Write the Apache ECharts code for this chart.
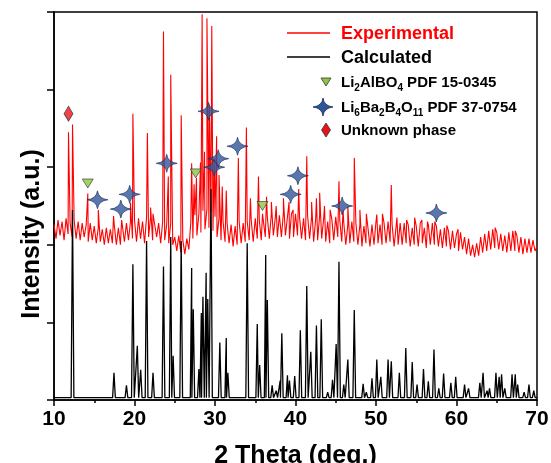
<!DOCTYPE html>
<html>
<head>
<meta charset="utf-8">
<script src="https://cdn.jsdelivr.net/npm/echarts@6/dist/echarts.min.js"></script>
<style>
  html, body { margin: 0; padding: 0; background: #fff; }
  #chart { width: 551px; height: 463px; }
</style>
</head>
<body>
<div id="chart"></div>
<script>
// XRD pattern: experimental (offset) vs calculated

const xTicks = [10, 20, 30, 40, 50, 60, 70];

// experimental background, one value every 0.25 deg from 10 to 70
const redStep = 0.25;
const redBase = [
  2.26, 2.08, 2.32, 2.12,  2.30, 2.06, 2.34, 2.14,  2.28, 2.10, 2.32, 2.08,
  2.30, 2.06, 2.28, 2.10,  2.26, 2.04, 2.28, 2.06,  2.24, 2.02, 2.22, 2.04,
  2.20, 2.00, 2.22, 2.02,  2.20, 2.02, 2.24, 2.00,  2.22, 2.00, 2.24, 2.04,
  2.28, 2.06, 2.30, 2.08,  2.32, 2.04, 2.34, 2.08,  2.30, 2.02, 2.36, 2.10,
  2.36, 2.06, 2.38, 2.10,  2.28, 2.02, 2.30, 2.06,  2.26, 2.02, 2.28, 2.00,
  2.10, 1.92, 2.12, 1.90,  2.06, 1.88, 2.08, 1.94,  2.30, 2.08, 2.38, 2.12,
  2.40, 2.16, 2.44, 2.20,  2.46, 2.22, 2.42, 2.18,  2.36, 2.10, 2.34, 2.06,
  2.30, 2.04, 2.28, 2.02,  2.26, 1.98, 2.24, 2.00,  2.30, 2.02, 2.28, 2.04,
  2.30, 2.06, 2.32, 2.04,  2.34, 2.08, 2.32, 2.06,  2.38, 2.10, 2.36, 2.08,
  2.40, 2.12, 2.36, 2.10,  2.38, 2.10, 2.42, 2.12,  2.36, 2.08, 2.40, 2.10,
  2.40, 2.12, 2.36, 2.08,  2.34, 2.06, 2.38, 2.08,  2.36, 2.04, 2.32, 2.06,
  2.38, 2.08, 2.34, 2.04,  2.30, 2.02, 2.34, 2.06,  2.36, 2.10, 2.32, 2.04,
  2.28, 2.00, 2.26, 2.02,  2.30, 2.04, 2.28, 2.00,  2.26, 1.98, 2.24, 2.02,
  2.22, 1.98, 2.26, 2.00,  2.30, 2.02, 2.26, 2.00,  2.28, 2.02, 2.30, 2.04,
  2.26, 1.98, 2.24, 2.00,  2.28, 2.00, 2.28, 2.02,  2.26, 1.98, 2.22, 2.00,
  2.24, 1.98, 2.28, 2.02,  2.22, 1.96, 2.26, 2.00,  2.28, 2.00, 2.24, 1.98,
  2.20, 1.96, 2.22, 1.98,  2.18, 1.94, 2.18, 1.96,  2.14, 1.92, 2.16, 1.94,
  2.10, 1.88, 2.08, 1.86,  2.00, 1.84, 2.02, 1.86,  2.10, 1.90, 2.14, 1.92,
  2.18, 1.94, 2.20, 1.96,  2.16, 1.94, 2.14, 1.92,  2.12, 1.90, 2.16, 1.92,
  2.18, 1.92, 2.12, 1.90,  2.10, 1.88, 2.08, 1.90,  2.08, 1.90, 2.06, 1.92,
  1.98
];

// experimental peaks [2theta, intensity]
const redPeaks = [
  [11.8, 3.45], [12.3, 3.55], [14.2, 2.66], [15.5, 2.45], [17.4, 2.37],
  [18.4, 2.32], [19.5, 2.54], [19.8, 3.69], [21.6, 3.44], [22.0, 2.48],
  [22.3, 2.40], [23.6, 4.75], [24.2, 2.88], [24.5, 4.19], [25.8, 3.67],
  [27.1, 3.05], [27.4, 2.78], [27.7, 2.86], [28.2, 3.06], [28.4, 4.97],
  [28.7, 3.20], [29.0, 4.92], [29.3, 3.80], [29.6, 4.82], [29.9, 3.10],
  [30.2, 3.40], [30.5, 2.90], [30.9, 2.75], [31.4, 2.70], [32.9, 3.12],
  [33.9, 3.51], [34.4, 2.60], [35.4, 2.88], [35.9, 2.40], [36.4, 2.62],
  [37.0, 2.55], [37.6, 2.50], [38.5, 2.60], [39.2, 2.55], [39.7, 2.45],
  [40.4, 2.72], [41.4, 3.14], [42.0, 2.55], [42.6, 2.60], [43.0, 2.67],
  [43.6, 2.50], [44.3, 2.45], [45.4, 2.82], [45.9, 2.45], [46.5, 2.50],
  [47.3, 3.12], [48.0, 2.45], [48.8, 2.40], [50.1, 2.39], [50.8, 2.40],
  [51.9, 2.77], [52.6, 2.35], [53.8, 2.32], [54.8, 2.35], [55.7, 2.32],
  [56.4, 2.30], [57.3, 2.30], [58.8, 2.25], [60.2, 2.20], [64.8, 2.22],
  [67.3, 2.18]
];

// calculated pattern peaks [2theta, intensity]
const calcBase = 0.03;
const calcPeaks = [
  [12.3, 2.45], [17.45, 0.35], [19.0, 0.19], [19.8, 1.75], [20.35, 0.70],
  [20.77, 0.39], [21.5, 2.05], [22.3, 0.35], [23.6, 1.72], [24.5, 2.10],
  [24.8, 0.57], [25.8, 2.05], [27.1, 1.70], [27.3, 1.17], [28.0, 0.40],
  [28.3, 1.12], [28.5, 1.33], [28.9, 1.64], [29.1, 1.30], [29.5, 2.72],
  [30.6, 0.74], [31.4, 0.80], [31.6, 0.35], [34.0, 2.02], [35.25, 0.98],
  [35.55, 0.45], [36.3, 1.87], [36.5, 1.29], [37.1, 0.19], [37.6, 0.12],
  [38.1, 0.25], [38.3, 0.86], [39.0, 0.32], [39.25, 0.25], [39.9, 0.31],
  [40.6, 0.90], [41.4, 1.47], [41.9, 0.62], [42.6, 0.96], [43.2, 1.04],
  [44.0, 0.10], [44.6, 0.26], [45.05, 0.72], [45.4, 1.78], [46.0, 0.20],
  [46.5, 0.52], [47.3, 1.16], [48.4, 0.21], [48.8, 0.10], [49.5, 0.28],
  [50.1, 0.52], [50.6, 0.30], [51.5, 0.52], [51.9, 0.50], [52.9, 0.35],
  [53.7, 0.67], [54.5, 0.49], [55.1, 0.20], [55.9, 0.40], [56.5, 0.24],
  [57.2, 0.65], [57.8, 0.15], [58.4, 0.34], [59.3, 0.22], [59.9, 0.30],
  [61.0, 0.20], [61.5, 0.15], [62.9, 0.22], [63.3, 0.35], [63.8, 0.12],
  [64.1, 0.15], [64.9, 0.35], [65.3, 0.30], [65.6, 0.33], [66.0, 0.15],
  [66.9, 0.33], [67.3, 0.33], [67.6, 0.20], [68.4, 0.10], [69.0, 0.20],
  [69.6, 0.12]
];

// phase markers [2theta, intensity]
const li2alboMarks = [[14.2, 2.79], [27.6, 2.92], [35.9, 2.50]];
const li6ba2Marks = [
  [15.4, 2.58], [18.3, 2.46], [19.4, 2.65], [24.0, 3.05], [29.2, 3.72],
  [29.9, 3.00], [30.4, 3.11], [32.8, 3.27], [39.4, 2.65], [40.3, 2.89],
  [45.8, 2.50], [57.5, 2.41]
];
const unknownMarks = [[11.8, 3.69]];

const byX = (a, b) => a[0] - b[0];

const redData = redBase.map((v, i) => [10 + i * redStep, v]).concat(redPeaks).sort(byX);

const calcData = [[10, calcBase], [70, calcBase]];
calcPeaks.forEach(([p, h]) => {
  calcData.push([p - 0.17, calcBase], [p, h], [p + 0.17, calcBase]);
});
calcData.sort(byX);

const FONT = "Arial, 'Liberation Sans', sans-serif";
const STAR = "path://M0,-9 Q1,-1 10,0 Q1,1 0,9 Q-1,1 -10,0 Q-1,-1 0,-9 Z";
// same star as a polygon outline for the legend glyph
const starOutline = [
  [0, -9], [1, -5.4], [3, -2.75], [6, -0.94], [10, 0], [6, 0.94], [3, 2.75], [1, 5.4],
  [0, 9], [-1, 5.4], [-3, 2.75], [-6, 0.94], [-10, 0], [-6, -0.94], [-3, -2.75], [-1, -5.4]
];
const GREEN = "#8dc63f", BLUE = "#2f5597", RED = "#ff0000";

const chart = echarts.init(document.getElementById("chart"), null, { renderer: "canvas" });

const subRich = {
  n: { fontSize: 15, fontWeight: "bold", fontFamily: FONT, color: "#000", lineHeight: 20 },
  s: { fontSize: 10, fontWeight: "bold", fontFamily: FONT, color: "#000", lineHeight: 10, verticalAlign: "bottom" }
};

chart.setOption({
  animation: false,
  backgroundColor: "#fff",
  grid: {
    left: 54, right: 14, top: 12, bottom: 63, outerBoundsMode: "none",
    show: true, borderColor: "#000", borderWidth: 1.5
  },
  xAxis: {
    type: "value",
    min: 10, max: 70, interval: 10,
    name: "2 Theta (deg.)",
    nameLocation: "middle",
    nameGap: 44,
    nameTextStyle: { fontFamily: FONT, fontWeight: "bold", fontSize: 25, color: "#000" },
    axisLine: { lineStyle: { color: "#000", width: 1.5 } },
    axisTick: { inside: false, length: 6, lineStyle: { color: "#000", width: 1.5 } },
    minorTick: { show: true, splitNumber: 2, length: 3, lineStyle: { color: "#000", width: 1.5 } },
    axisLabel: {
      margin: 9, fontFamily: FONT, fontWeight: "bold", fontSize: 21, color: "#000",
      formatter: v => (xTicks.includes(v) ? String(v) : "")
    },
    splitLine: { show: false }
  },
  yAxis: {
    type: "value",
    min: 0, max: 5, interval: 1,
    axisLine: { show: true, lineStyle: { color: "#000", width: 1.5 } },
    axisTick: { show: true, inside: false, length: 7, lineStyle: { color: "#000", width: 1.5 } },
    axisLabel: { show: false },
    splitLine: { show: false }
  },
  series: [
    {
      name: "Experimental", type: "line", data: redData, showSymbol: false, sampling: false,
      lineStyle: { color: RED, width: 1.1 }, z: 2
    },
    {
      name: "Calculated", type: "line", data: calcData, showSymbol: false, sampling: false,
      lineStyle: { color: "#000", width: 1.3 }, z: 3
    },
    {
      name: "Li2AlBO4", type: "scatter", data: li2alboMarks, symbol: "triangle", symbolRotate: 180,
      symbolSize: [11, 9], itemStyle: { color: GREEN, borderColor: "#333", borderWidth: 0.8 }, z: 5
    },
    {
      name: "Li6Ba2B4O11", type: "scatter", data: li6ba2Marks, symbol: STAR,
      symbolSize: [21, 18], itemStyle: { color: BLUE, borderColor: "#1c2f5c", borderWidth: 0.8 }, z: 5
    },
    {
      name: "Unknown", type: "scatter", data: unknownMarks, symbol: "diamond",
      symbolSize: [9, 15], itemStyle: { color: "#e8141b", borderColor: "#333", borderWidth: 0.8 }, z: 5
    }
  ],
  graphic: [
    {
      type: "text", x: 32, y: 234, rotation: Math.PI / 2,
      style: { text: "Intensity (a.u.)", fontFamily: FONT, fontWeight: "bold", fontSize: 25, fill: "#000", align: "center", verticalAlign: "middle" }
    },
    { type: "line", shape: { x1: 287, y1: 33, x2: 330, y2: 33 }, style: { stroke: RED, lineWidth: 1.5 } },
    {
      type: "text", x: 341, y: 34,
      style: { text: "Experimental", fontFamily: FONT, fontWeight: "bold", fontSize: 18, fill: RED, verticalAlign: "middle" }
    },
    { type: "line", shape: { x1: 287, y1: 57, x2: 330, y2: 57 }, style: { stroke: "#000", lineWidth: 1.5 } },
    {
      type: "text", x: 341, y: 58,
      style: { text: "Calculated", fontFamily: FONT, fontWeight: "bold", fontSize: 18, fill: "#000", verticalAlign: "middle" }
    },
    {
      type: "polygon", shape: { points: [[321, 78], [331, 78], [326, 86]] },
      style: { fill: GREEN, stroke: "#333", lineWidth: 0.8 }
    },
    {
      type: "text", x: 341, y: 83,
      style: { text: "{n|Li}{s|2}{n|AlBO}{s|4}{n| PDF 15-0345}", rich: subRich, verticalAlign: "middle" }
    },
    {
      type: "polygon", x: 323, y: 107, shape: { points: starOutline },
      style: { fill: BLUE, stroke: "#1c2f5c", lineWidth: 0.8 }
    },
    {
      type: "text", x: 341, y: 108,
      style: { text: "{n|Li}{s|6}{n|Ba}{s|2}{n|B}{s|4}{n|O}{s|11}{n| PDF 37-0754}", rich: subRich, verticalAlign: "middle" }
    },
    {
      type: "polygon", shape: { points: [[326, 123], [330.5, 130], [326, 137], [321.5, 130]] },
      style: { fill: "#e8141b", stroke: "#333", lineWidth: 0.8 }
    },
    {
      type: "text", x: 341, y: 131,
      style: { text: "Unknown phase", fontFamily: FONT, fontWeight: "bold", fontSize: 15, fill: "#000", verticalAlign: "middle" }
    }
  ]
});

window.addEventListener("resize", () => chart.resize());
</script>
</body>
</html>
